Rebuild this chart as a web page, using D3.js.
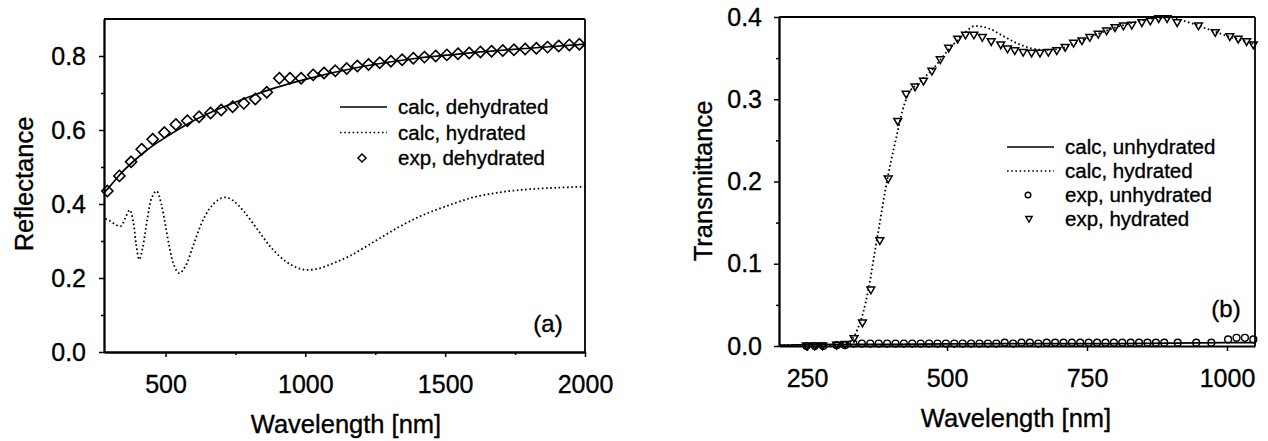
<!DOCTYPE html>
<html>
<head>
<meta charset="utf-8">
<script src="https://cdn.jsdelivr.net/npm/d3@7"></script>
<style>
  html, body { margin: 0; padding: 0; background: #fff; }
  svg { display: block; }
  text { font-family: "Liberation Sans", Arial, Helvetica, sans-serif; fill: #000; stroke: #000; stroke-width: 0.35px; }
</style>
</head>
<body>
<svg id="chart" width="1268" height="441"></svg>
<script>
// ---------------- Panel (a): reflectance ----------------
const aCalcDehydWave = [280, 300, 350, 400, 450, 500, 600, 700, 800, 900, 1000, 1200, 1400, 1600, 1800, 2000];
const aCalcDehydVal  = [0.430, 0.447, 0.490, 0.525, 0.555, 0.580, 0.625, 0.660, 0.690, 0.716, 0.737, 0.771, 0.794, 0.809, 0.821, 0.832];

const aCalcHydWave = [285, 300, 320, 340, 355, 372, 385, 395, 406, 418, 435, 450, 468, 485, 500, 515, 530, 549, 570, 600, 630, 660, 690, 713, 740, 780, 830, 880, 930, 970, 1000, 1050, 1100, 1160, 1250, 1340, 1420, 1500, 1600, 1700, 1800, 1900, 2000];
const aCalcHydVal  = [0.360, 0.355, 0.345, 0.340, 0.360, 0.384, 0.350, 0.290, 0.250, 0.280, 0.360, 0.415, 0.435, 0.400, 0.340, 0.280, 0.235, 0.213, 0.230, 0.290, 0.350, 0.390, 0.412, 0.418, 0.410, 0.380, 0.330, 0.280, 0.245, 0.228, 0.222, 0.226, 0.240, 0.260, 0.300, 0.340, 0.370, 0.393, 0.418, 0.432, 0.440, 0.444, 0.447];

const aExpDehydWave = [292, 335, 377, 415, 454, 496, 537, 578, 620, 661, 699, 740, 780, 821, 862, 907, 945, 985, 1028, 1067, 1107, 1148, 1186, 1226, 1266, 1306, 1346, 1386, 1426, 1466, 1506, 1546, 1586, 1626, 1666, 1706, 1746, 1786, 1826, 1866, 1906, 1944, 1980];
const aExpDehydVal  = [0.435, 0.476, 0.514, 0.548, 0.575, 0.593, 0.615, 0.625, 0.636, 0.646, 0.654, 0.663, 0.672, 0.684, 0.702, 0.740, 0.740, 0.740, 0.749, 0.754, 0.760, 0.766, 0.773, 0.777, 0.782, 0.786, 0.790, 0.794, 0.797, 0.800, 0.803, 0.806, 0.808, 0.811, 0.813, 0.815, 0.817, 0.819, 0.821, 0.824, 0.827, 0.830, 0.832];

const aXTicks = [500, 1000, 1500, 2000];
const aXMinor = [750, 1250, 1750];
const aYTicks = [0.0, 0.2, 0.4, 0.6, 0.8];
const aYMinor = [0.1, 0.3, 0.5, 0.7];
const aLegend = ["calc, dehydrated", "calc, hydrated", "exp, dehydrated"];

// ---------------- Panel (b): transmittance ----------------
const bCalcUnhydWave = [200, 300, 400, 600, 800, 1000, 1050];
const bCalcUnhydVal  = [0.001, 0.002, 0.002, 0.003, 0.003, 0.004, 0.004];

const bCalcHydWave = [200, 250, 300, 320, 330, 340, 350, 360, 370, 380, 390, 400, 410, 420, 430, 450, 475, 500, 525, 550, 575, 600, 625, 650, 675, 700, 725, 750, 775, 800, 825, 850, 875, 900, 925, 950, 975, 1000, 1025, 1050];
const bCalcHydVal  = [0.001, 0.001, 0.001, 0.003, 0.008, 0.020, 0.040, 0.070, 0.110, 0.150, 0.190, 0.225, 0.255, 0.285, 0.305, 0.320, 0.337, 0.358, 0.376, 0.389, 0.386, 0.377, 0.368, 0.362, 0.360, 0.361, 0.367, 0.374, 0.381, 0.387, 0.392, 0.396, 0.399, 0.399, 0.395, 0.389, 0.383, 0.377, 0.372, 0.367];

const bExpUnhydWave = [249, 264, 279, 303, 318, 333, 348, 363, 378, 393, 408, 423, 438, 453, 468, 483, 498, 513, 528, 543, 558, 573, 588, 603, 618, 633, 648, 663, 678, 693, 708, 723, 738, 753, 768, 783, 798, 813, 828, 843, 858, 873, 888, 912, 945, 972, 1002, 1017, 1032, 1047];
const bExpUnhydVal  = [0.000, 0.000, 0.000, 0.001, 0.001, 0.003, 0.003, 0.003, 0.003, 0.003, 0.003, 0.003, 0.003, 0.003, 0.003, 0.003, 0.003, 0.003, 0.003, 0.003, 0.003, 0.003, 0.003, 0.004, 0.003, 0.004, 0.004, 0.003, 0.004, 0.004, 0.004, 0.004, 0.004, 0.004, 0.004, 0.004, 0.004, 0.004, 0.004, 0.004, 0.004, 0.004, 0.004, 0.004, 0.004, 0.004, 0.008, 0.010, 0.010, 0.008];

const bExpHydWave = [249, 264, 278, 303, 318, 334, 349, 364, 380, 395, 412, 427, 443, 458, 473, 488, 503, 519, 533, 548, 563, 579, 596, 608, 621, 636, 651, 666, 681, 696, 711, 726, 741, 755, 770, 785, 800, 815, 830, 848, 863, 878, 893, 911, 949, 979, 1005, 1020, 1035, 1047];
const bExpHydVal  = [0.000, 0.000, 0.000, 0.001, 0.002, 0.009, 0.028, 0.068, 0.128, 0.203, 0.273, 0.306, 0.315, 0.322, 0.334, 0.348, 0.362, 0.373, 0.378, 0.378, 0.375, 0.370, 0.366, 0.361, 0.359, 0.357, 0.356, 0.356, 0.357, 0.359, 0.363, 0.368, 0.371, 0.375, 0.379, 0.383, 0.387, 0.389, 0.390, 0.393, 0.395, 0.398, 0.398, 0.393, 0.389, 0.381, 0.376, 0.373, 0.370, 0.366];

const bXTicks = [250, 500, 750, 1000];
const bYTicks = [0.0, 0.1, 0.2, 0.3, 0.4];
const bYMinor = [0.05, 0.15, 0.25, 0.35];
const bLegend = ["calc, unhydrated", "calc, hydrated", "exp, unhydrated", "exp, hydrated"];

const xTitle = "Wavelength [nm]";

// ---------------- drawing ----------------
const svg = d3.select("#chart");
svg.append("rect").attr("width", 1268).attr("height", 441).attr("fill", "#fff");

const zip = (xs, ys) => xs.map((x, i) => [x, ys[i]]);
const TICK_FONT = 25, TITLE_FONT = 25.5, LEG_FONT = 20.5;

const diamondPath = r => `M0,${-r}L${r},0L0,${r}L${-r},0Z`;
const triPath = w => `M${-w/2},${-w*0.38}L${w/2},${-w*0.38}L0,${w*0.48}Z`;

function frame(g, x, y, xt, xm, yt, ym, ypad) {
  const [x0, x1] = x.range();
  const [y0, y1] = y.range();
  g.append("line").attr("x1", x0).attr("x2", x1).attr("y1", y1).attr("y2", y1)
    .attr("stroke", "#000").attr("stroke-width", 1.8);
  g.append("line").attr("x1", x1).attr("x2", x1).attr("y1", y1).attr("y2", y0)
    .attr("stroke", "#000").attr("stroke-width", 1.8);

  const fmt = d3.format(".1f");
  g.append("g").attr("transform", `translate(0,${y0})`)
    .call(d3.axisBottom(x).tickValues(xt).tickSize(5).tickSizeOuter(0).tickPadding(18).tickFormat(d3.format("d")));
  if (xm) g.append("g").attr("transform", `translate(0,${y0})`)
    .call(d3.axisBottom(x).tickValues(xm).tickSize(3).tickSizeOuter(0).tickFormat(""));
  g.append("g").attr("transform", `translate(${x0},0)`)
    .call(d3.axisLeft(y).tickValues(yt).tickSize(5).tickSizeOuter(0).tickPadding(ypad).tickFormat(fmt));
  if (ym) g.append("g").attr("transform", `translate(${x0},0)`)
    .call(d3.axisLeft(y).tickValues(ym).tickSize(3).tickSizeOuter(0).tickFormat(""));

  g.selectAll(".domain").attr("stroke", "#000").attr("stroke-width", 1.8);
  g.selectAll(".tick line").attr("stroke", "#000").attr("stroke-width", 1.5);
  g.selectAll(".tick text").attr("font-size", TICK_FONT)
    .attr("font-family", '"Liberation Sans", Arial, sans-serif').attr("fill", "#000");
}

// ---- Panel (a)
const xA = d3.scaleLinear().domain([280, 2000]).range([104, 585]);
const yA = d3.scaleLinear().domain([0, 0.9]).range([352, 19]);
const gA = svg.append("g");

gA.append("path").datum(zip(aCalcHydWave, aCalcHydVal))
  .attr("d", d3.line().x(d => xA(d[0])).y(d => yA(d[1])).curve(d3.curveCatmullRom.alpha(0.5)))
  .attr("fill", "none").attr("stroke", "#000").attr("stroke-width", 1.8)
  .attr("stroke-dasharray", "1.6,2.6");
gA.append("path").datum(zip(aCalcDehydWave, aCalcDehydVal))
  .attr("d", d3.line().x(d => xA(d[0])).y(d => yA(d[1])).curve(d3.curveMonotoneX))
  .attr("fill", "none").attr("stroke", "#000").attr("stroke-width", 1.7);
gA.selectAll("path.dia").data(zip(aExpDehydWave, aExpDehydVal)).enter()
  .append("path").attr("class", "dia")
  .attr("transform", d => `translate(${xA(d[0])},${yA(d[1])})`)
  .attr("d", diamondPath(5.6))
  .attr("fill", "none").attr("stroke", "#000").attr("stroke-width", 1.6);

frame(gA, xA, yA, aXTicks, aXMinor, aYTicks, aYMinor, 13);

gA.append("text").attr("x", 346).attr("y", 433).attr("text-anchor", "middle")
  .attr("font-size", TITLE_FONT).text(xTitle);
gA.append("text").attr("transform", "translate(33,184) rotate(-90)")
  .attr("text-anchor", "middle").attr("font-size", TITLE_FONT).text("Reflectance");
gA.append("text").attr("x", 548).attr("y", 332).attr("text-anchor", "middle")
  .attr("font-size", 24).text("(a)");

// legend (a)
const legA = gA.append("g");
const rowsA = [107, 132.5, 158];
legA.append("line").attr("x1", 340).attr("x2", 387).attr("y1", rowsA[0]).attr("y2", rowsA[0])
  .attr("stroke", "#000").attr("stroke-width", 1.7);
legA.append("line").attr("x1", 340).attr("x2", 387).attr("y1", rowsA[1]).attr("y2", rowsA[1])
  .attr("stroke", "#000").attr("stroke-width", 1.7).attr("stroke-dasharray", "1.6,2.6");
legA.append("path").attr("transform", `translate(362,${rowsA[2]})`).attr("d", diamondPath(4))
  .attr("fill", "none").attr("stroke", "#000").attr("stroke-width", 1.5);
aLegend.forEach((t, i) => legA.append("text").attr("x", 398).attr("y", rowsA[i] + 7)
  .attr("font-size", LEG_FONT).text(t));

// ---- Panel (b)
const xB = d3.scaleLinear().domain([200, 1050]).range([779, 1255]);
const yB = d3.scaleLinear().domain([0, 0.4]).range([346, 17]);
const gB = svg.append("g");

gB.append("path").datum(zip(bCalcUnhydWave, bCalcUnhydVal))
  .attr("d", d3.line().x(d => xB(d[0])).y(d => yB(d[1])).curve(d3.curveMonotoneX))
  .attr("fill", "none").attr("stroke", "#000").attr("stroke-width", 1.7);
gB.append("path").datum(zip(bCalcHydWave, bCalcHydVal))
  .attr("d", d3.line().x(d => xB(d[0])).y(d => yB(d[1])).curve(d3.curveMonotoneX))
  .attr("fill", "none").attr("stroke", "#000").attr("stroke-width", 1.8)
  .attr("stroke-dasharray", "1.6,2.6");
gB.selectAll("circle.unh").data(zip(bExpUnhydWave, bExpUnhydVal)).enter()
  .append("circle").attr("class", "unh")
  .attr("cx", d => xB(d[0])).attr("cy", d => yB(d[1])).attr("r", 3.4)
  .attr("fill", "none").attr("stroke", "#000").attr("stroke-width", 1.4);
gB.selectAll("path.hyd").data(zip(bExpHydWave, bExpHydVal)).enter()
  .append("path").attr("class", "hyd")
  .attr("transform", d => `translate(${xB(d[0])},${yB(d[1])})`)
  .attr("d", triPath(7.8))
  .attr("fill", "none").attr("stroke", "#000").attr("stroke-width", 1.5);

frame(gB, xB, yB, bXTicks, null, bYTicks, bYMinor, 12);

gB.append("text").attr("x", 1016).attr("y", 427).attr("text-anchor", "middle")
  .attr("font-size", TITLE_FONT).text(xTitle);
gB.append("text").attr("transform", "translate(712,181) rotate(-90)")
  .attr("text-anchor", "middle").attr("font-size", TITLE_FONT).text("Transmittance");
gB.append("text").attr("x", 1226).attr("y", 317).attr("text-anchor", "middle")
  .attr("font-size", 24).text("(b)");

// legend (b)
const legB = gB.append("g");
const rowsB = [147, 171, 195, 219];
legB.append("line").attr("x1", 1007).attr("x2", 1054).attr("y1", rowsB[0]).attr("y2", rowsB[0])
  .attr("stroke", "#000").attr("stroke-width", 1.7);
legB.append("line").attr("x1", 1007).attr("x2", 1054).attr("y1", rowsB[1]).attr("y2", rowsB[1])
  .attr("stroke", "#000").attr("stroke-width", 1.7).attr("stroke-dasharray", "1.6,2.6");
legB.append("circle").attr("cx", 1028).attr("cy", rowsB[2]).attr("r", 2.8)
  .attr("fill", "none").attr("stroke", "#000").attr("stroke-width", 1.4);
legB.append("path").attr("transform", `translate(1029,${rowsB[3]})`).attr("d", triPath(6.4))
  .attr("fill", "none").attr("stroke", "#000").attr("stroke-width", 1.4);
bLegend.forEach((t, i) => legB.append("text").attr("x", 1065).attr("y", rowsB[i] + 7)
  .attr("font-size", LEG_FONT).text(t));
</script>
</body>
</html>
